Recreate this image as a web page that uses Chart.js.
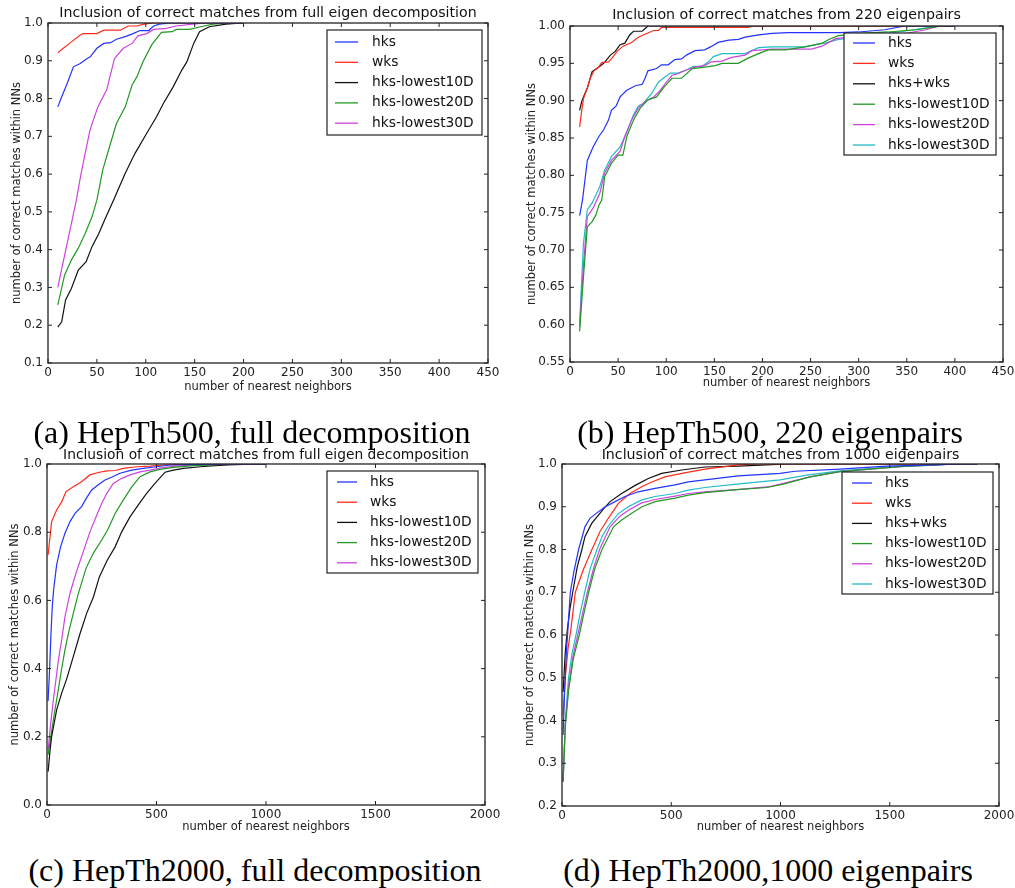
<!DOCTYPE html>
<html>
<head>
<meta charset="utf-8">
<script src="https://cdn.jsdelivr.net/npm/chart.js@4.4.0/dist/chart.umd.min.js"></script>
<style>
  body { margin: 0; background: #fff; width: 1015px; height: 888px; position: relative; overflow: hidden; }
  canvas { position: absolute; }
  .cap { position: absolute; width: 500px; text-align: center; white-space: nowrap;
         font-family: "Liberation Serif", "Times New Roman", serif; font-size: 32px; line-height: 36px; color: #000; }
</style>
</head>
<body>
<canvas id="ca" width="500" height="400" style="left:0;top:0"></canvas>
<canvas id="cb" width="510" height="400" style="left:505px;top:0"></canvas>
<canvas id="cc" width="500" height="400" style="left:0;top:440px"></canvas>
<canvas id="cd" width="510" height="400" style="left:505px;top:440px"></canvas>
<div class="cap" style="left:2px;top:414px">(a) HepTh500, full decomposition</div>
<div class="cap" style="left:520px;top:414px">(b) HepTh500, 220 eigenpairs</div>
<div class="cap" style="left:5px;top:852px">(c) HepTh2000, full decomposition</div>
<div class="cap" style="left:518px;top:852px">(d) HepTh2000,1000 eigenpairs</div>
<script>
// colours (matplotlib b, r, k, g, m, c)
const BLUE = '#2233ff', RED = '#ff2a1a', BLACK = '#111111', GREEN = '#229922', MAGENTA = '#cc44dd', CYAN = '#22bcc4';

// (a) HepTh500, full decomposition  -- [neighbors, fraction]
const a_hks = [[10,.778],[14,.805],[19,.836],[26,.884],[33,.893],[40,.906],[43,.91],[50,.933],[57,.946],[64,.948],[70,.957],[79,.964],[87,.972],[94,.98],[103,.98],[108,.992],[114,.997],[125,1],[200,1]];
const a_wks = [[10,.921],[14,.93],[24,.95],[33,.968],[36,.972],[50,.972],[57,.981],[74,.981],[82,.992],[91,.992],[98,.997],[108,1],[200,1]];
const a_low10 = [[10,.195],[14,.209],[18,.267],[24,.298],[31,.346],[39,.368],[45,.408],[52,.443],[58,.479],[67,.531],[79,.602],[89,.655],[101,.708],[111,.752],[118,.787],[128,.831],[137,.876],[142,.897],[149,.946],[155,.977],[165,.99],[182,.997],[199,1],[200,1]];
const a_low20 = [[10,.254],[17,.333],[24,.373],[31,.404],[38,.443],[45,.487],[50,.531],[56,.611],[63,.673],[70,.734],[79,.778],[86,.836],[91,.858],[97,.897],[106,.942],[116,.975],[127,.977],[131,.983],[145,.983],[156,.99],[169,.997],[182,1],[200,1]];
const a_low30 = [[10,.30],[29,.531],[33,.59],[38,.655],[43,.717],[51,.778],[60,.823],[68,.906],[77,.933],[86,.946],[92,.966],[101,.972],[108,.983],[121,.986],[131,.992],[148,.997],[162,1],[200,1]];

// (b) HepTh500, 220 eigenpairs
const b_hks = [[10,.746],[13,.767],[18,.82],[24,.838],[30,.852],[35,.861],[40,.874],[43,.887],[48,.893],[52,.905],[59,.914],[68,.92],[75,.922],[78,.93],[81,.94],[90,.943],[95,.948],[102,.948],[109,.955],[116,.956],[121,.961],[130,.967],[140,.968],[146,.972],[154,.978],[165,.981],[175,.982],[182,.985],[196,.988],[210,.99],[227,.991],[280,.991],[300,.992],[327,.995],[348,1],[400,1]];
const b_wks = [[10,.865],[12,.885],[14,.903],[18,.917],[21,.93],[25,.94],[29,.944],[33,.951],[40,.952],[43,.956],[49,.966],[55,.973],[64,.978],[71,.985],[78,.989],[87,.994],[92,.994],[95,.998],[185,.998],[190,1],[400,1]];
const b_both = [[10,.887],[12,.898],[14,.905],[18,.917],[23,.939],[30,.945],[35,.95],[42,.961],[47,.966],[52,.975],[57,.977],[62,.988],[66,.993],[75,.993],[81,1],[400,1]];
const b_low10 = [[10,.591],[14,.664],[18,.731],[23,.738],[27,.747],[30,.76],[33,.767],[36,.798],[43,.816],[50,.827],[55,.827],[59,.852],[66,.874],[73,.89],[81,.901],[90,.905],[97,.917],[106,.93],[116,.93],[127,.943],[140,.945],[151,.947],[158,.95],[175,.95],[185,.957],[196,.963],[206,.968],[224,.968],[244,.972],[262,.977],[269,.982],[279,.987],[300,.99],[330,.992],[360,.995],[387,1],[400,1]];
const b_low20 = [[10,.597],[14,.68],[18,.745],[24,.756],[31,.776],[36,.803],[43,.82],[52,.832],[57,.852],[64,.874],[71,.89],[78,.899],[87,.905],[94,.914],[99,.923],[106,.934],[112,.936],[121,.941],[130,.945],[140,.947],[147,.952],[158,.953],[168,.958],[182,.961],[189,.967],[210,.969],[251,.969],[262,.973],[276,.983],[300,.986],[348,.99],[370,.995],[383,1],[400,1]];
const b_low30 = [[10,.602],[14,.709],[18,.754],[23,.763],[31,.785],[36,.807],[43,.825],[52,.838],[59,.858],[66,.881],[71,.893],[76,.896],[85,.91],[92,.925],[99,.932],[104,.937],[112,.937],[121,.941],[128,.946],[137,.946],[144,.952],[149,.959],[158,.963],[182,.963],[196,.971],[210,.972],[244,.972],[256,.975],[265,.977],[279,.982],[300,.985],[331,.99],[352,.994],[383,1],[400,1]];

// (c) HepTh2000, full decomposition
const c_hks = [[5,.305],[12,.40],[18,.50],[24,.58],[30,.63],[44,.704],[62,.757],[82,.797],[105,.831],[128,.855],[158,.875],[180,.90],[204,.924],[242,.943],[265,.953],[295,.961],[333,.973],[387,.982],[440,.987],[500,.992],[562,.997],[700,.999],[850,1],[1000,1]];
const c_wks = [[5,.733],[21,.831],[44,.865],[67,.889],[87,.919],[120,.933],[158,.948],[196,.968],[234,.975],[273,.98],[311,.981],[348,.987],[410,.992],[470,.994],[531,.997],[637,.999],[927,1],[1000,1]];
const c_low10 = [[5,.098],[14,.161],[21,.2],[44,.279],[67,.328],[90,.37],[120,.435],[151,.503],[181,.562],[212,.61],[239,.669],[275,.718],[311,.757],[341,.801],[379,.845],[417,.88],[455,.914],[493,.943],[539,.976],[577,.982],[623,.987],[700,.992],[821,.997],[973,1],[1000,1]];
const c_low20 = [[5,.147],[21,.215],[29,.25],[52,.34],[67,.40],[82,.455],[100,.51],[120,.562],[143,.62],[178,.694],[211,.738],[250,.777],[280,.811],[311,.855],[348,.894],[387,.933],[425,.963],[470,.977],[516,.984],[577,.99],[668,.995],[850,.999],[940,1],[1000,1]];
const c_low30 = [[5,.16],[17,.24],[29,.308],[52,.425],[67,.484],[82,.552],[105,.621],[132,.679],[163,.738],[196,.801],[227,.85],[250,.885],[273,.914],[303,.943],[341,.958],[379,.968],[425,.977],[470,.982],[516,.988],[577,.993],[668,.997],[850,1],[1000,1]];

// (d) HepTh2000, 1000 eigenpairs
const d_hks = [[5,.366],[12,.47],[20,.56],[28,.62],[38,.70],[55,.75],[76,.80],[105,.853],[128,.873],[166,.888],[198,.90],[243,.912],[288,.924],[349,.935],[426,.943],[517,.951],[578,.958],[654,.963],[807,.972],[998,.978],[1066,.983],[1272,.988],[1486,.995],[1700,.998],[1821,1],[1900,1]];
const d_wks = [[5,.413],[15,.50],[28,.57],[41,.615],[61,.70],[97,.752],[136,.799],[174,.842],[212,.873],[258,.908],[311,.931],[365,.947],[411,.958],[471,.97],[548,.978],[654,.988],[807,.998],[890,1],[1900,1]];
const d_both = [[5,.467],[15,.56],[25,.615],[36,.66],[49,.70],[70,.76],[91,.80],[105,.83],[136,.861],[190,.895],[220,.912],[273,.931],[335,.95],[395,.966],[456,.978],[548,.986],[654,.993],[807,.995],[1036,1],[1900,1]];
const d_low10 = [[5,.257],[15,.385],[30,.47],[52,.545],[79,.60],[100,.65],[122,.70],[150,.755],[183,.80],[236,.853],[273,.869],[319,.885],[366,.90],[426,.912],[517,.92],[578,.927],[654,.933],[800,.94],[937,.945],[1013,.953],[1135,.97],[1272,.982],[1547,.994],[1806,1],[1900,1]];
const d_low20 = [[5,.257],[15,.39],[30,.48],[50,.55],[72,.60],[94,.65],[116,.70],[145,.757],[172,.80],[220,.853],[265,.878],[311,.894],[365,.909],[426,.917],[517,.925],[578,.931],[654,.935],[800,.94],[952,.947],[1013,.955],[1135,.97],[1272,.982],[1547,.994],[1806,1],[1900,1]];
const d_low30 = [[5,.257],[15,.40],[30,.50],[45,.555],[64,.60],[85,.655],[104,.70],[130,.757],[160,.80],[185,.832],[212,.855],[258,.884],[303,.9],[365,.916],[426,.924],[517,.931],[578,.939],[654,.945],[800,.953],[998,.963],[1120,.974],[1272,.984],[1500,.993],[1800,1],[1900,1]];

const TITLE_FULL = 'Inclusion of correct matches from full eigen decomposition';
const XLABEL = 'number of nearest neighbors';
const YLABEL = 'number of correct matches within NNs';
const FONT = '"DejaVu Sans", Verdana, sans-serif';

// frame with inward ticks on all four sides, title above axes, boxed legend
const framePlugin = {
  id: 'frame',
  afterDraw(chart, args, o) {
    const { ctx, chartArea: a, scales: { x, y } } = chart;
    ctx.save();
    ctx.strokeStyle = '#222';
    ctx.lineWidth = 1;
    ctx.beginPath();
    x.ticks.forEach(t => {
      const px = x.getPixelForValue(t.value);
      ctx.moveTo(px, a.bottom); ctx.lineTo(px, a.bottom - 4);
      ctx.moveTo(px, a.top); ctx.lineTo(px, a.top + 4);
    });
    y.ticks.forEach(t => {
      const py = y.getPixelForValue(t.value);
      ctx.moveTo(a.left, py); ctx.lineTo(a.left + 4, py);
      ctx.moveTo(a.right, py); ctx.lineTo(a.right - 4, py);
    });
    ctx.stroke();
    ctx.lineWidth = 1.3;
    ctx.strokeRect(a.left, a.top, a.right - a.left, a.bottom - a.top);

    ctx.fillStyle = '#111';
    ctx.font = o.titleSize + 'px ' + FONT;
    ctx.textAlign = 'center';
    ctx.textBaseline = 'middle';
    ctx.fillText(o.title, (a.left + a.right) / 2, a.top - o.titleDy);

    const L = o.legend;
    ctx.fillStyle = '#fff';
    ctx.fillRect(L.x, L.y, L.w, L.h);
    ctx.lineWidth = 1.2;
    ctx.strokeStyle = '#222';
    ctx.strokeRect(L.x, L.y, L.w, L.h);
    ctx.font = '13.8px ' + FONT;
    ctx.textAlign = 'left';
    chart.data.datasets.forEach((ds, i) => {
      const ry = L.y + L.first + i * L.gap;
      ctx.strokeStyle = ds.borderColor;
      ctx.lineWidth = 1.3;
      ctx.beginPath();
      ctx.moveTo(L.x + L.lx, ry); ctx.lineTo(L.x + L.lx + L.len, ry);
      ctx.stroke();
      ctx.fillStyle = '#111';
      ctx.fillText(ds.label, L.x + L.tx, ry);
    });
    ctx.restore();
  }
};

function makePanel(id, p) {
  new Chart(document.getElementById(id), {
    type: 'line',
    data: {
      datasets: p.series.map(s => ({
        label: s[0], data: s[1], borderColor: s[2], borderWidth: 1.2,
        pointRadius: 0, tension: 0, fill: false
      }))
    },
    options: {
      responsive: false,
      animation: false,
      devicePixelRatio: 1,
      layout: { padding: { top: p.top, right: p.right, left: 0, bottom: 0 } },
      scales: {
        x: {
          type: 'linear', min: 0, max: p.xmax,
          grid: { display: false, drawTicks: false },
          border: { display: false },
          ticks: { stepSize: p.xstep, autoSkip: false, maxRotation: 0, padding: 3,
                   color: '#222', font: { family: FONT, size: 12 },
                   callback: v => String(v) },
          title: { display: true, text: XLABEL, color: '#222',
                   font: { family: FONT, size: 11.5 }, padding: { top: 0, bottom: p.xtPad } },
          afterFit(s) { s.height = p.xh; s.paddingLeft = 0; s.paddingRight = 0; }
        },
        y: {
          type: 'linear', min: p.ymin, max: p.ymax,
          grid: { display: false, drawTicks: false },
          border: { display: false },
          ticks: { stepSize: p.ystep, autoSkip: false, padding: 5, color: '#222',
                   font: { family: FONT, size: 12 },
                   callback: v => Number(v).toFixed(p.dec) },
          title: { display: true, text: YLABEL, color: '#222',
                   font: { family: FONT, size: 11.5 }, padding: { top: p.ytPad, bottom: 0 } },
          afterFit(s) { s.width = p.left; s.paddingTop = 0; s.paddingBottom = 0; }
        }
      },
      plugins: {
        legend: { display: false },
        tooltip: { enabled: false },
        frame: { title: p.title, titleSize: p.titleSize, titleDy: p.titleDy, legend: p.legend }
      }
    },
    plugins: [framePlugin]
  });
}

makePanel('ca', {
  series: [['hks', a_hks, BLUE], ['wks', a_wks, RED], ['hks-lowest10D', a_low10, BLACK],
           ['hks-lowest20D', a_low20, GREEN], ['hks-lowest30D', a_low30, MAGENTA]],
  xmax: 450, xstep: 50, ymin: 0.1, ymax: 1.0, ystep: 0.1, dec: 1,
  left: 48, top: 23, right: 12, xh: 37, xtPad: 6, ytPad: 10,
  title: TITLE_FULL, titleSize: 14.2, titleDy: 10,
  legend: { x: 327, y: 30, w: 155, h: 105, first: 12, gap: 20.3, lx: 8, len: 23, tx: 45 }
});

makePanel('cb', {
  series: [['hks', b_hks, BLUE], ['wks', b_wks, RED], ['hks+wks', b_both, BLACK],
           ['hks-lowest10D', b_low10, GREEN], ['hks-lowest20D', b_low20, MAGENTA], ['hks-lowest30D', b_low30, CYAN]],
  xmax: 450, xstep: 50, ymin: 0.55, ymax: 1.0, ystep: 0.05, dec: 2,
  left: 65, top: 26, right: 12, xh: 38, xtPad: 10, ytPad: 20,
  title: 'Inclusion of correct matches from 220 eigenpairs', titleSize: 14.2, titleDy: 11,
  legend: { x: 339, y: 33, w: 152, h: 122, first: 10, gap: 20.4, lx: 9, len: 22, tx: 44 }
});

makePanel('cc', {
  series: [['hks', c_hks, BLUE], ['wks', c_wks, RED], ['hks-lowest10D', c_low10, BLACK],
           ['hks-lowest20D', c_low20, GREEN], ['hks-lowest30D', c_low30, MAGENTA]],
  xmax: 2000, xstep: 500, ymin: 0, ymax: 1.0, ystep: 0.2, dec: 1,
  left: 47, top: 24, right: 15, xh: 35, xtPad: 6, ytPad: 8,
  title: TITLE_FULL, titleSize: 13.8, titleDy: 9,
  legend: { x: 327, y: 31, w: 151, h: 102, first: 11, gap: 20.2, lx: 10, len: 20, tx: 43 }
});

makePanel('cd', {
  series: [['hks', d_hks, BLUE], ['wks', d_wks, RED], ['hks+wks', d_both, BLACK],
           ['hks-lowest10D', d_low10, GREEN], ['hks-lowest20D', d_low20, MAGENTA], ['hks-lowest30D', d_low30, CYAN]],
  xmax: 2000, xstep: 500, ymin: 0.2, ymax: 1.0, ystep: 0.1, dec: 1,
  left: 57, top: 24, right: 16, xh: 34, xtPad: 6, ytPad: 18,
  title: 'Inclusion of correct matches from 1000 eigenpairs', titleSize: 14.2, titleDy: 9,
  legend: { x: 337, y: 32, w: 151, h: 122, first: 11, gap: 20.2, lx: 10, len: 20, tx: 43 }
});
</script>
</body>
</html>
